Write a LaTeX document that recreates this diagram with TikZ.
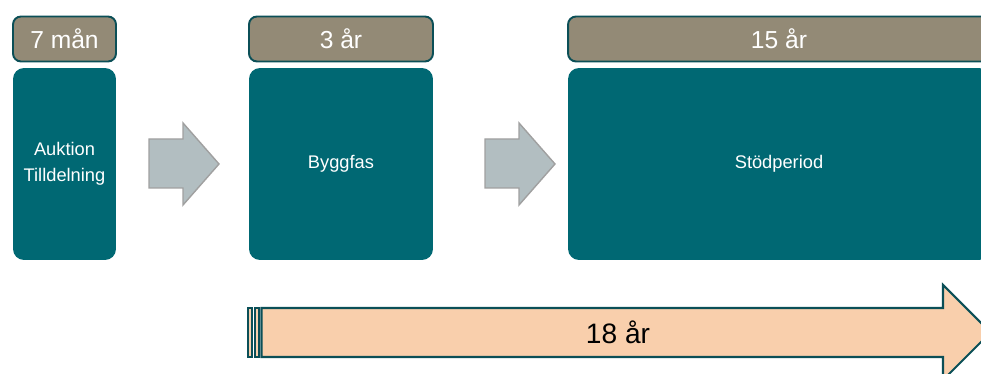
\documentclass[tikz,border=0pt]{standalone}
\usepackage{fontspec}
\setmainfont{Liberation Sans}
\usetikzlibrary{positioning}
\definecolor{taupe}{HTML}{938A76}
\definecolor{petrol}{HTML}{006873}
\definecolor{edge}{HTML}{0B4F57}
\definecolor{peach}{HTML}{F9CFAC}
\definecolor{pilgray}{HTML}{B2BEC1}
\definecolor{pilline}{HTML}{A0A0A0}
\tikzset{
	tid/.style={rectangle,rounded corners=0.16cm,fill=taupe,draw=edge,line width=1.1pt,
		text=white,inner sep=0pt,minimum height=0.9cm,font=\fontsize{14}{16}\selectfont},
	fas/.style={rectangle,rounded corners=0.22cm,fill=petrol,text=white,inner sep=0pt,
		minimum height=3.84cm,align=center,font=\fontsize{10.4}{15}\selectfont},
	pil/.style={fill=pilgray,draw=pilline,line width=0.8pt},
	total/.style={fill=peach,draw=edge,line width=1.2pt}
}

\begin{document}
\begin{tikzpicture}[x=0.02cm,y=-0.02cm]
	\useasboundingbox (0,0) rectangle (981,374);
	\clip (0,0) rectangle (981,374);
	% tidsetiketter
	\node[tid,minimum width=2.06cm] (t1) at (64.5,39) {7 mån};
	\node[tid,minimum width=3.68cm] (t2) at (341,39) {3 år};
	\node[tid,minimum width=8.44cm] (t3) at (779,39) {15 år};
	% faser
	\node[fas,minimum width=2.06cm] (f1) at (64.5,164) {Auktion\\Tilldelning};
	\node[fas,minimum width=3.68cm] (f2) at (341,164) {Byggfas};
	\node[fas,minimum width=8.44cm] (f3) at (779,164) {Stödperiod};
	% pilar mellan faserna
	\foreach \x in {149,485}{
		\draw[pil] (\x,139) -- (\x+34,139) -- (\x+34,123) -- (\x+70,164)
			-- (\x+34,205) -- (\x+34,188) -- (\x,188) -- cycle;
	}
	% total tid
	\draw[total,line width=1.5pt] (248,308) rectangle (252,357);
	\draw[total,line width=1.5pt] (255,308) rectangle (259,357);
	\draw[total] (261.5,308) -- (943,308) -- (943,285) -- (990.5,332.5)
		-- (943,380) -- (943,357) -- (261.5,357) -- cycle;
	\node[font=\fontsize{16}{18}\selectfont] (tot) at (618,332.5) {18 år};
\end{tikzpicture}
\end{document}
